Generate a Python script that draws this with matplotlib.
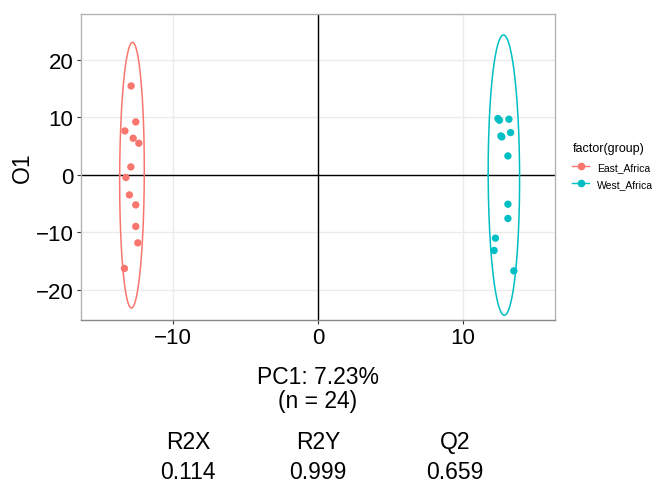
import numpy as np
import matplotlib.pyplot as plt
from matplotlib.lines import Line2D

plt.rcParams['font.family'] = ['Liberation Sans', 'DejaVu Sans']

# skorlar (okunan degerler)
doguX = [-12.85, -12.53, -13.28, -12.71, -12.32, -12.87, -13.21, -12.97, -12.53, -12.53, -12.39, -13.31]
doguY = [15.48, 9.22, 7.65, 6.38, 5.51, 1.39, -0.45, -3.48, -5.22, -8.97, -11.83, -16.28]
batiX = [12.39, 12.50, 13.15, 12.66, 12.60, 13.26, 13.08, 13.08, 13.08, 12.22, 12.13, 13.49]
batiY = [9.81, 9.51, 9.69, 6.61, 6.78, 7.37, 3.30, -5.10, -7.58, -11.01, -13.15, -16.70]

gruplar = ["East_Africa", "West_Africa"]
renkler = ["#F8766D", "#00BFC4"]

metrikAdlari = ["R2X", "R2Y", "Q2"]
metrikDegerleri = ["0.114", "0.999", "0.659"]
pc1Yuzde = "7.23%"
n = 24


def elips(x, y, k=2.4477):
    x = np.array(x)
    y = np.array(y)
    cov = np.cov(x, y)
    vals, vecs = np.linalg.eigh(cov)
    t = np.linspace(0, 2 * np.pi, 200)
    daire = np.vstack([np.cos(t), np.sin(t)])
    pts = vecs @ (np.sqrt(vals)[:, None] * daire) * k
    return pts[0] + x.mean(), pts[1] + y.mean()


fig = plt.figure(figsize=(6.56, 4.85), dpi=100)
ax = fig.add_axes([81 / 656, 1 - 320.7 / 485, (554.7 - 81) / 656, (320.7 - 15) / 485])

ax.set_axisbelow(True)
ax.grid(True, color="#ebebeb", linewidth=1)
ax.axhline(0, color="black", linewidth=1, zorder=1)
ax.axvline(0, color="black", linewidth=1, zorder=1)

for xs, ys, renk in [(doguX, doguY, renkler[0]), (batiX, batiY, renkler[1])]:
    ex, ey = elips(xs, ys)
    ax.plot(ex, ey, color=renk, linewidth=1.1, zorder=2)
    ax.scatter(xs, ys, s=28, color=renk, edgecolors="none", zorder=3)

ax.set_xlim(-16.3, 16.3)
ax.set_ylim(-25.2, 28.0)
ax.set_xticks([-10, 0, 10])
ax.set_yticks([-20, -10, 0, 10, 20])
ax.tick_params(labelsize=16, colors="#333333", length=3, width=0.8, labelcolor="black", pad=2.5)
for s in ax.spines.values():
    s.set_color("#b3b3b3")
    s.set_linewidth(1)
ax.spines["bottom"].set_color("#888888")

ax.set_ylabel("O1", fontsize=16.5, labelpad=1)
ax.set_xlabel("PC1: " + pc1Yuzde + "\n(n = " + str(n) + ")", fontsize=16.5, labelpad=12, linespacing=1.05)

kulplar = [Line2D([0], [0], color=r, marker="o", markersize=4.5, linewidth=1) for r in renkler]
fig.legend(kulplar, gruplar, title="factor(group)", loc="upper left",
           bbox_to_anchor=(563 / 656, 1 - 134 / 485), frameon=False,
           fontsize=7.5, title_fontsize=9, handlelength=1.6, labelspacing=0.7,
           alignment="left")

xler = [188, 318, 455]
for i in range(len(metrikAdlari)):
    fig.text(xler[i] / 656, 1 - 443 / 485, metrikAdlari[i], ha="center", va="center", fontsize=16.5)
    fig.text(xler[i] / 656, 1 - 473 / 485, metrikDegerleri[i], ha="center", va="center", fontsize=16.5)

fig.savefig("out.png", dpi=100)
